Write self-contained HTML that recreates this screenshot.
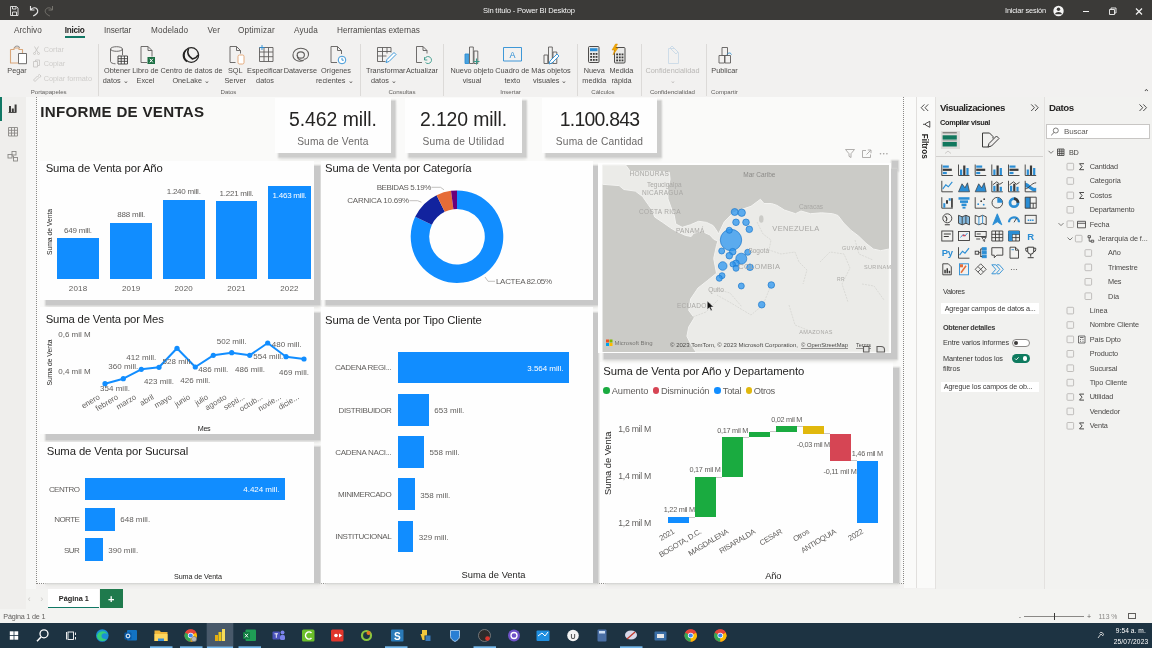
<!DOCTYPE html>
<html lang="es"><head><meta charset="utf-8"><title>Sin título - Power BI Desktop</title>
<style>
html,body{margin:0;padding:0}
body{width:1152px;height:648px;overflow:hidden;position:relative;background:#f2f1f0;font-family:"Liberation Sans",sans-serif;}
.b{position:absolute;display:block}
.t{position:absolute;white-space:nowrap;display:block}
svg{position:absolute;overflow:visible}
svg text{font-family:"Liberation Sans",sans-serif}
</style></head>
<body>
<div class="b" style="left:0.0px;top:0.0px;width:1152.0px;height:20.0px;background:#3b3a38;"></div>
<span class="t" style="left:483.0px;top:5.9px;font-size:7.6px;line-height:10px;color:#f4f4f4;letter-spacing:-0.18px;">Sin título - Power BI Desktop</span>
<span class="t" style="left:1005.0px;top:5.8px;font-size:7.4px;line-height:10px;color:#f4f4f4;letter-spacing:-0.16px;">Iniciar sesión</span>
<svg class="b" style="left:0;top:0.600px" width="1152" height="21" viewBox="0 0 1152 21" fill="none" stroke="#e8e8e8" stroke-width="1">
<path d="M10.5 5.5h6l1.5 1.500v7.500h-7.500z M12.5 5.500v2.500h3.500v-2.500 M12.500 14.500v-3.500h4v3.500" stroke-width="0.9"/>
<path d="M30.500 5v4h4 M30.700 9c1.500-3 6-3 7 .500c.500 2.500-1.500 4-4.500 5.500" stroke-width="1.100"/>
<path d="M52.500 5v4h-4 M52.300 9c-1.500-3-6-3-7 .500c-.5 2.500 1.500 4 4.500 5.500" stroke="#77756f" stroke-width="1"/>
<circle cx="1058.500" cy="10" r="5.200" fill="#f4f4f4" stroke="none"/>
<circle cx="1058.500" cy="8.300" r="1.700" fill="#3a3937" stroke="none"/>
<path d="M1055 13.200c.5-2.800 6.500-2.800 7 0z" fill="#3a3937" stroke="none"/>
<path d="M1083 10.500h6" stroke="#f4f4f4"/>
<path d="M1109.500 8.500h5v5h-5z M1111 8.500v-1.500h5v5h-1.500" stroke="#f4f4f4" stroke-width="0.9"/>
<path d="M1136 7.500l6 6 M1142 7.500l-6 6" stroke="#f4f4f4" stroke-width="1.200"/>
</svg>
<div class="b" style="left:0.0px;top:20.0px;width:1152.0px;height:77.0px;background:#f2f1f0;"></div>
<span class="t" style="left:14.0px;top:24.9px;font-size:8.2px;line-height:11px;color:#4a4846;letter-spacing:0.09px;">Archivo</span>
<span class="t" style="left:64.7px;top:24.9px;font-size:8.2px;line-height:11px;color:#252423;letter-spacing:-0.27px;font-weight:700;">Inicio</span>
<span class="t" style="left:104.0px;top:24.9px;font-size:8.2px;line-height:11px;color:#4a4846;letter-spacing:-0.06px;">Insertar</span>
<span class="t" style="left:151.0px;top:24.9px;font-size:8.2px;line-height:11px;color:#4a4846;letter-spacing:0.16px;">Modelado</span>
<span class="t" style="left:207.5px;top:24.9px;font-size:8.2px;line-height:11px;color:#4a4846;letter-spacing:0.06px;">Ver</span>
<span class="t" style="left:238.0px;top:24.9px;font-size:8.2px;line-height:11px;color:#4a4846;letter-spacing:0.21px;">Optimizar</span>
<span class="t" style="left:294.0px;top:24.9px;font-size:8.2px;line-height:11px;color:#4a4846;letter-spacing:0.18px;">Ayuda</span>
<span class="t" style="left:337.0px;top:24.9px;font-size:8.2px;line-height:11px;color:#4a4846;letter-spacing:0.00px;">Herramientas externas</span>
<div class="b" style="left:64.7px;top:36.0px;width:20.0px;height:1.6px;background:#117865;"></div>
<span class="t" style="left:7.3px;top:66.1px;font-size:7.3px;line-height:9px;color:#4c4a48;">Pegar</span>
<span class="t" style="left:43.7px;top:45.4px;font-size:7.3px;line-height:9px;color:#cfcdcb;">Cortar</span>
<span class="t" style="left:43.7px;top:59.1px;font-size:7.3px;line-height:9px;color:#cfcdcb;">Copiar</span>
<span class="t" style="left:43.7px;top:74.4px;font-size:7.3px;line-height:9px;color:#cfcdcb;">Copiar formato</span>
<span class="t" style="left:104.1px;top:66.1px;font-size:7.3px;line-height:9px;color:#4c4a48;">Obtener</span>
<span class="t" style="left:102.8px;top:76.1px;font-size:7.3px;line-height:9px;color:#4c4a48;">datos ⌄</span>
<span class="t" style="left:132.3px;top:66.1px;font-size:7.3px;line-height:9px;color:#4c4a48;">Libro de</span>
<span class="t" style="left:136.6px;top:76.1px;font-size:7.3px;line-height:9px;color:#4c4a48;">Excel</span>
<span class="t" style="left:160.5px;top:66.1px;font-size:7.3px;line-height:9px;color:#4c4a48;">Centro de datos de</span>
<span class="t" style="left:172.4px;top:76.1px;font-size:7.3px;line-height:9px;color:#4c4a48;">OneLake ⌄</span>
<span class="t" style="left:228.0px;top:66.1px;font-size:7.3px;line-height:9px;color:#4c4a48;">SQL</span>
<span class="t" style="left:224.5px;top:76.1px;font-size:7.3px;line-height:9px;color:#4c4a48;">Server</span>
<span class="t" style="left:247.1px;top:66.1px;font-size:7.3px;line-height:9px;color:#4c4a48;">Especificar</span>
<span class="t" style="left:256.1px;top:76.1px;font-size:7.3px;line-height:9px;color:#4c4a48;">datos</span>
<span class="t" style="left:283.7px;top:66.1px;font-size:7.3px;line-height:9px;color:#4c4a48;">Dataverse</span>
<span class="t" style="left:321.0px;top:66.1px;font-size:7.3px;line-height:9px;color:#4c4a48;">Orígenes</span>
<span class="t" style="left:315.9px;top:76.1px;font-size:7.3px;line-height:9px;color:#4c4a48;">recientes ⌄</span>
<span class="t" style="left:366.0px;top:66.1px;font-size:7.3px;line-height:9px;color:#4c4a48;">Transformar</span>
<span class="t" style="left:371.0px;top:76.1px;font-size:7.3px;line-height:9px;color:#4c4a48;">datos ⌄</span>
<span class="t" style="left:406.0px;top:66.1px;font-size:7.3px;line-height:9px;color:#4c4a48;">Actualizar</span>
<span class="t" style="left:450.5px;top:66.1px;font-size:7.3px;line-height:9px;color:#4c4a48;">Nuevo objeto</span>
<span class="t" style="left:462.7px;top:76.1px;font-size:7.3px;line-height:9px;color:#4c4a48;">visual</span>
<span class="t" style="left:495.3px;top:66.1px;font-size:7.3px;line-height:9px;color:#4c4a48;">Cuadro de</span>
<span class="t" style="left:504.4px;top:76.1px;font-size:7.3px;line-height:9px;color:#4c4a48;">texto</span>
<span class="t" style="left:531.3px;top:66.1px;font-size:7.3px;line-height:9px;color:#4c4a48;">Más objetos</span>
<span class="t" style="left:533.1px;top:76.1px;font-size:7.3px;line-height:9px;color:#4c4a48;">visuales ⌄</span>
<span class="t" style="left:583.7px;top:66.1px;font-size:7.3px;line-height:9px;color:#4c4a48;">Nueva</span>
<span class="t" style="left:582.3px;top:76.1px;font-size:7.3px;line-height:9px;color:#4c4a48;">medida</span>
<span class="t" style="left:609.5px;top:66.1px;font-size:7.3px;line-height:9px;color:#4c4a48;">Medida</span>
<span class="t" style="left:611.4px;top:76.1px;font-size:7.3px;line-height:9px;color:#4c4a48;">rápida</span>
<span class="t" style="left:645.5px;top:66.1px;font-size:7.3px;line-height:9px;color:#b9b7b5;">Confidencialidad</span>
<span class="t" style="left:669.8px;top:76.1px;font-size:7.3px;line-height:9px;color:#b9b7b5;">⌄</span>
<span class="t" style="left:711.3px;top:66.1px;font-size:7.3px;line-height:9px;color:#4c4a48;">Publicar</span>
<span class="t" style="left:30.7px;top:87.7px;font-size:6.1px;line-height:8px;color:#605e5c;">Portapapeles</span>
<span class="t" style="left:220.5px;top:87.7px;font-size:6.1px;line-height:8px;color:#605e5c;">Datos</span>
<span class="t" style="left:388.4px;top:87.7px;font-size:6.1px;line-height:8px;color:#605e5c;">Consultas</span>
<span class="t" style="left:500.2px;top:87.7px;font-size:6.1px;line-height:8px;color:#605e5c;">Insertar</span>
<span class="t" style="left:591.3px;top:87.7px;font-size:6.1px;line-height:8px;color:#605e5c;">Cálculos</span>
<span class="t" style="left:649.9px;top:87.7px;font-size:6.1px;line-height:8px;color:#605e5c;">Confidencialidad</span>
<span class="t" style="left:711.1px;top:87.7px;font-size:6.1px;line-height:8px;color:#605e5c;">Compartir</span>
<div class="b" style="left:97.5px;top:43.5px;width:0.8px;height:52.0px;background:#dcdad8;"></div>
<div class="b" style="left:360.0px;top:43.5px;width:0.8px;height:52.0px;background:#dcdad8;"></div>
<div class="b" style="left:443.3px;top:43.5px;width:0.8px;height:52.0px;background:#dcdad8;"></div>
<div class="b" style="left:576.7px;top:43.5px;width:0.8px;height:52.0px;background:#dcdad8;"></div>
<div class="b" style="left:640.7px;top:43.5px;width:0.8px;height:52.0px;background:#dcdad8;"></div>
<div class="b" style="left:705.5px;top:43.5px;width:0.8px;height:52.0px;background:#dcdad8;"></div>
<span class="t" style="left:1143.0px;top:87.9px;font-size:8px;line-height:10px;color:#252423;">⌃</span>
<div class="b" style="left:0.0px;top:97.0px;width:25.5px;height:512.0px;background:#efeeec;"></div>
<div class="b" style="left:25.5px;top:97.0px;width:10.5px;height:492.0px;background:#f7f7f6;"></div>
<div class="b" style="left:0.0px;top:96.5px;width:2.2px;height:24.0px;background:#117865;"></div>
<div class="b" style="left:36.0px;top:97.0px;width:867.5px;height:486.5px;background:#fafaf9;border-left:1px dotted #8a8886;border-bottom:1px dotted #8a8886;border-right:1px dotted #8a8886;box-sizing:border-box;"></div>
<div class="b" style="left:904.0px;top:97.0px;width:12.0px;height:490.5px;background:#fafaf9;"></div>
<div class="b" style="left:916.0px;top:97.0px;width:19.0px;height:490.5px;background:#fafaf9;border-left:1px solid #e1dfdd;box-sizing:border-box;"></div>
<div class="b" style="left:935.0px;top:97.0px;width:108.5px;height:492.0px;background:#f1f1ef;border-left:1px solid #e3e1df;box-sizing:border-box;"></div>
<div class="b" style="left:1043.5px;top:97.0px;width:108.5px;height:492.0px;background:#f2f2f0;border-left:1px solid #e3e1df;box-sizing:border-box;"></div>
<div class="b" style="left:25.5px;top:588.5px;width:1127.0px;height:20.5px;background:#f3f3f1;"></div>
<div class="b" style="left:0.0px;top:609.0px;width:1152.0px;height:14.5px;background:#f3f3f1;"></div>
<div class="b" style="left:48.3px;top:589.3px;width:51.0px;height:18.7px;background:#ffffff;border-bottom:1.6px solid #117865;box-sizing:border-box;"></div>
<span class="t" style="left:58.8px;top:594.4px;font-size:7.3px;line-height:9px;color:#252423;font-weight:700;">Página 1</span>
<div class="b" style="left:100.0px;top:589.3px;width:22.7px;height:18.7px;background:#1f7a4d;"></div>
<span class="t" style="left:108.1px;top:591.5px;font-size:11px;line-height:14px;color:#ffffff;font-weight:700;">+</span>
<span class="t" style="left:27.8px;top:593.0px;font-size:9px;line-height:12px;color:#c8c6c4;">‹</span>
<span class="t" style="left:40.2px;top:593.0px;font-size:9px;line-height:12px;color:#c8c6c4;">›</span>
<span class="t" style="left:3.3px;top:612.2px;font-size:7.2px;line-height:9px;color:#605e5c;letter-spacing:-0.19px;">Página 1 de 1</span>
<div class="b" style="left:1024.0px;top:616.0px;width:60.0px;height:0.8px;background:#8a8886;"></div>
<div class="b" style="left:1053.5px;top:612.5px;width:1.6px;height:7.0px;background:#3b3a39;"></div>
<span class="t" style="left:1018.8px;top:611.9px;font-size:7px;line-height:9px;color:#605e5c;">-</span>
<span class="t" style="left:1087.0px;top:611.9px;font-size:7px;line-height:9px;color:#605e5c;">+</span>
<span class="t" style="left:1098.6px;top:612.1px;font-size:6.8px;line-height:9px;color:#8a8886;">113 %</span>
<div class="b" style="left:1128.0px;top:612.5px;width:8.0px;height:6.5px;background:transparent;border:1px solid #605e5c;box-sizing:border-box;"></div>
<div class="b" style="left:0.0px;top:623.0px;width:1152.0px;height:25.0px;background:#1d3342;"></div>
<span class="t" style="left:40.3px;top:101.8px;font-size:15.1px;line-height:20px;color:#252423;letter-spacing:0.29px;font-weight:700;">INFORME DE VENTAS</span>
<div class="b" style="left:278.6px;top:101.1px;width:116.0px;height:55.5px;background:#cdcdcc;box-shadow:0 0 1.500px 1px #d2d2d0,0 3px 3px 0 #e8e8e5"></div>
<div class="b" style="left:275.0px;top:97.5px;width:116.0px;height:55.5px;background:#fefefe;"></div>
<span class="t" style="left:289.0px;top:107.1px;font-size:19.4px;line-height:25px;color:#252423;letter-spacing:-0.04px;">5.462 mill.</span>
<span class="t" style="left:297.2px;top:135.2px;font-size:10.2px;line-height:13px;color:#6b6968;letter-spacing:0.13px;">Suma de Venta</span>
<div class="b" style="left:408.6px;top:101.1px;width:117.0px;height:55.5px;background:#cdcdcc;box-shadow:0 0 1.500px 1px #d2d2d0,0 3px 3px 0 #e8e8e5"></div>
<div class="b" style="left:405.0px;top:97.5px;width:117.0px;height:55.5px;background:#fefefe;"></div>
<span class="t" style="left:420.0px;top:107.1px;font-size:19.4px;line-height:25px;color:#252423;letter-spacing:-0.13px;">2.120 mill.</span>
<span class="t" style="left:422.5px;top:135.2px;font-size:10.2px;line-height:13px;color:#6b6968;letter-spacing:0.27px;">Suma de Utilidad</span>
<div class="b" style="left:545.6px;top:101.1px;width:115.0px;height:55.5px;background:#cdcdcc;box-shadow:0 0 1.500px 1px #d2d2d0,0 3px 3px 0 #e8e8e5"></div>
<div class="b" style="left:542.0px;top:97.5px;width:115.0px;height:55.5px;background:#fefefe;"></div>
<span class="t" style="left:559.8px;top:107.1px;font-size:19.4px;line-height:25px;color:#252423;letter-spacing:-0.76px;">1.100.843</span>
<span class="t" style="left:555.8px;top:135.2px;font-size:10.2px;line-height:13px;color:#6b6968;letter-spacing:0.19px;">Suma de Cantidad</span>
<div class="b" style="left:45.5px;top:166.0px;width:274.0px;height:139.1px;background:#c8c8c8;box-shadow:0 0 1.500px 1px #d2d2d0,0 3px 3px 0 #e8e8e5"></div>
<div class="b" style="left:40.0px;top:160.5px;width:274.0px;height:139.1px;background:#fefefe;"></div>
<span class="t" style="left:45.7px;top:160.8px;font-size:11.3px;line-height:15px;color:#252423;letter-spacing:-0.11px;">Suma de Venta por Año</span>
<div class="b" style="left:56.7px;top:238.4px;width:42.6px;height:40.9px;background:#118dff;"></div>
<span class="t" style="left:64.1px;top:225.8px;font-size:8px;line-height:10px;color:#605e5c;letter-spacing:-0.23px;">649 mill.</span>
<span class="t" style="left:68.8px;top:283.8px;font-size:8px;line-height:10px;color:#605e5c;letter-spacing:0.18px;">2018</span>
<div class="b" style="left:110.0px;top:223.0px;width:42.3px;height:56.3px;background:#118dff;"></div>
<span class="t" style="left:117.3px;top:210.4px;font-size:8px;line-height:10px;color:#605e5c;letter-spacing:-0.23px;">888 mill.</span>
<span class="t" style="left:121.9px;top:283.8px;font-size:8px;line-height:10px;color:#605e5c;letter-spacing:0.18px;">2019</span>
<div class="b" style="left:162.7px;top:200.0px;width:42.0px;height:79.3px;background:#118dff;"></div>
<span class="t" style="left:166.7px;top:187.4px;font-size:8px;line-height:10px;color:#605e5c;letter-spacing:-0.23px;">1.240 mill.</span>
<span class="t" style="left:174.4px;top:283.8px;font-size:8px;line-height:10px;color:#605e5c;letter-spacing:0.18px;">2020</span>
<div class="b" style="left:215.7px;top:201.4px;width:41.6px;height:77.9px;background:#118dff;"></div>
<span class="t" style="left:219.5px;top:188.8px;font-size:8px;line-height:10px;color:#605e5c;letter-spacing:-0.23px;">1.221 mill.</span>
<span class="t" style="left:227.2px;top:283.8px;font-size:8px;line-height:10px;color:#605e5c;letter-spacing:0.18px;">2021</span>
<div class="b" style="left:268.3px;top:185.8px;width:42.4px;height:93.5px;background:#118dff;"></div>
<span class="t" style="left:272.5px;top:190.9px;font-size:8px;line-height:10px;color:#ffffff;letter-spacing:-0.23px;">1.463 mill.</span>
<span class="t" style="left:280.2px;top:283.8px;font-size:8px;line-height:10px;color:#605e5c;letter-spacing:0.18px;">2022</span>
<svg class="b" style="left:0;top:0" width="1152" height="648"><text transform="translate(51.800,232) rotate(-90)" text-anchor="middle" font-size="7.200" fill="#252423" textLength="46" lengthAdjust="spacingAndGlyphs">Suma de Venta</text></svg>
<div class="b" style="left:326.2px;top:166.0px;width:272.0px;height:139.1px;background:#c8c8c8;box-shadow:0 0 1.500px 1px #d2d2d0,0 3px 3px 0 #e8e8e5"></div>
<div class="b" style="left:320.7px;top:160.5px;width:272.0px;height:139.1px;background:#fefefe;"></div>
<span class="t" style="left:325.0px;top:160.8px;font-size:11.3px;line-height:15px;color:#252423;letter-spacing:-0.11px;">Suma de Venta por Categoría</span>
<svg class="b" style="left:0;top:0" width="1152" height="648"><path d="M457.00 190.40A46.3 46.3 0 1 1 415.17 216.85L431.88 224.78A27.8 27.8 0 1 0 457.00 208.90Z" fill="#118dff"/><path d="M415.17 216.85A46.3 46.3 0 0 1 436.60 195.13L444.75 211.74A27.8 27.8 0 0 0 431.88 224.78Z" fill="#12239e"/><path d="M436.60 195.13A46.3 46.3 0 0 1 451.00 190.79L453.39 209.13A27.8 27.8 0 0 0 444.75 211.74Z" fill="#e66c37"/><path d="M451.00 190.79A46.3 46.3 0 0 1 457.00 190.40L457.00 208.90A27.8 27.8 0 0 0 453.39 209.13Z" fill="#6b007b"/><path d="M431.5 187.300h9l3.500 2.500 M409.500 200.700h8l4 1.500 M485 277l3 4.300h7" fill="none" stroke="#b3b0ad" stroke-width="0.8"/></svg>
<span class="t" style="left:376.7px;top:182.7px;font-size:8px;line-height:10px;color:#605e5c;letter-spacing:-0.41px;">BEBIDAS 5.19%</span>
<span class="t" style="left:347.3px;top:196.1px;font-size:8px;line-height:10px;color:#605e5c;letter-spacing:-0.23px;">CARNICA 10.69%</span>
<span class="t" style="left:496.0px;top:276.7px;font-size:8px;line-height:10px;color:#605e5c;letter-spacing:-0.33px;">LACTEA 82.05%</span>
<div class="b" style="left:45.5px;top:312.5px;width:274.0px;height:127.3px;background:#c8c8c8;box-shadow:0 0 1.500px 1px #d2d2d0,0 3px 3px 0 #e8e8e5"></div>
<div class="b" style="left:40.0px;top:307.0px;width:274.0px;height:127.3px;background:#fefefe;"></div>
<span class="t" style="left:45.7px;top:312.4px;font-size:11.3px;line-height:15px;color:#252423;letter-spacing:-0.15px;">Suma de Venta por Mes</span>
<span class="t" style="left:58.3px;top:330.4px;font-size:8px;line-height:10px;color:#605e5c;letter-spacing:-0.01px;">0,6 mil M</span>
<span class="t" style="left:58.3px;top:367.4px;font-size:8px;line-height:10px;color:#605e5c;letter-spacing:-0.01px;">0,4 mil M</span>
<svg class="b" style="left:0;top:0" width="1152" height="648"><polyline fill="none" stroke="#118dff" stroke-width="2" stroke-linejoin="round" points="105,383.7 123.3,378.7 141.3,369.3 159,367.3 177,348.3 195.3,367 213.3,355.3 231.7,352.7 249.7,355.3 267.7,343 286,356.7 304,359"/><circle cx="105" cy="383.7" r="2.600" fill="#118dff"/><circle cx="123.3" cy="378.7" r="2.600" fill="#118dff"/><circle cx="141.3" cy="369.3" r="2.600" fill="#118dff"/><circle cx="159" cy="367.3" r="2.600" fill="#118dff"/><circle cx="177" cy="348.3" r="2.600" fill="#118dff"/><circle cx="195.3" cy="367" r="2.600" fill="#118dff"/><circle cx="213.3" cy="355.3" r="2.600" fill="#118dff"/><circle cx="231.7" cy="352.7" r="2.600" fill="#118dff"/><circle cx="249.7" cy="355.3" r="2.600" fill="#118dff"/><circle cx="267.7" cy="343" r="2.600" fill="#118dff"/><circle cx="286" cy="356.7" r="2.600" fill="#118dff"/><circle cx="304" cy="359" r="2.600" fill="#118dff"/><text transform="translate(100.5,398.5) rotate(-31)" text-anchor="end" font-size="7.800" fill="#605e5c">enero</text><text transform="translate(118.8,398.5) rotate(-31)" text-anchor="end" font-size="7.800" fill="#605e5c">febrero</text><text transform="translate(136.8,398.5) rotate(-31)" text-anchor="end" font-size="7.800" fill="#605e5c">marzo</text><text transform="translate(154.5,398.5) rotate(-31)" text-anchor="end" font-size="7.800" fill="#605e5c">abril</text><text transform="translate(172.5,398.5) rotate(-31)" text-anchor="end" font-size="7.800" fill="#605e5c">mayo</text><text transform="translate(190.8,398.5) rotate(-31)" text-anchor="end" font-size="7.800" fill="#605e5c">junio</text><text transform="translate(208.8,398.5) rotate(-31)" text-anchor="end" font-size="7.800" fill="#605e5c">julio</text><text transform="translate(227.2,398.5) rotate(-31)" text-anchor="end" font-size="7.800" fill="#605e5c">agosto</text><text transform="translate(245.2,398.5) rotate(-31)" text-anchor="end" font-size="7.800" fill="#605e5c">septi...</text><text transform="translate(263.2,398.5) rotate(-31)" text-anchor="end" font-size="7.800" fill="#605e5c">octub...</text><text transform="translate(281.5,398.5) rotate(-31)" text-anchor="end" font-size="7.800" fill="#605e5c">novie...</text><text transform="translate(299.5,398.5) rotate(-31)" text-anchor="end" font-size="7.800" fill="#605e5c">dicie...</text><text transform="translate(51.800,362.5) rotate(-90)" text-anchor="middle" font-size="7.200" fill="#252423" textLength="46" lengthAdjust="spacingAndGlyphs">Suma de Venta</text></svg>
<span class="t" style="left:100.0px;top:384.1px;font-size:8px;line-height:10px;color:#605e5c;letter-spacing:0.02px;">354 mill.</span>
<span class="t" style="left:108.3px;top:362.4px;font-size:8px;line-height:10px;color:#605e5c;letter-spacing:0.02px;">360 mill.</span>
<span class="t" style="left:126.3px;top:353.1px;font-size:8px;line-height:10px;color:#605e5c;letter-spacing:0.02px;">412 mill.</span>
<span class="t" style="left:144.0px;top:376.7px;font-size:8px;line-height:10px;color:#605e5c;letter-spacing:0.02px;">423 mill.</span>
<span class="t" style="left:162.5px;top:357.4px;font-size:8px;line-height:10px;color:#605e5c;letter-spacing:0.02px;">528 mill.</span>
<span class="t" style="left:180.3px;top:376.1px;font-size:8px;line-height:10px;color:#605e5c;letter-spacing:0.02px;">426 mill.</span>
<span class="t" style="left:198.3px;top:365.4px;font-size:8px;line-height:10px;color:#605e5c;letter-spacing:0.02px;">486 mill.</span>
<span class="t" style="left:216.7px;top:336.7px;font-size:8px;line-height:10px;color:#605e5c;letter-spacing:0.02px;">502 mill.</span>
<span class="t" style="left:235.0px;top:365.4px;font-size:8px;line-height:10px;color:#605e5c;letter-spacing:0.02px;">486 mill.</span>
<span class="t" style="left:253.3px;top:352.4px;font-size:8px;line-height:10px;color:#605e5c;letter-spacing:0.02px;">554 mill.</span>
<span class="t" style="left:271.7px;top:340.4px;font-size:8px;line-height:10px;color:#605e5c;letter-spacing:0.02px;">480 mill.</span>
<span class="t" style="left:279.0px;top:368.1px;font-size:8px;line-height:10px;color:#605e5c;letter-spacing:0.02px;">469 mill.</span>
<span class="t" style="left:197.8px;top:423.6px;font-size:7.2px;line-height:9px;color:#252423;letter-spacing:-0.37px;">Mes</span>
<div class="b" style="left:45.5px;top:447.0px;width:274.0px;height:136.0px;background:#c8c8c8;box-shadow:0 0 1.500px 1px #d2d2d0,0 3px 3px 0 #e8e8e5"></div>
<div class="b" style="left:40.0px;top:441.5px;width:274.0px;height:141.5px;background:#fefefe;"></div>
<span class="t" style="left:46.7px;top:444.1px;font-size:11.3px;line-height:15px;color:#252423;letter-spacing:-0.09px;">Suma de Venta por Sucursal</span>
<div class="b" style="left:85.3px;top:477.7px;width:200.0px;height:22.6px;background:#118dff;"></div>
<span class="t" style="left:48.9px;top:484.9px;font-size:8px;line-height:10px;color:#605e5c;letter-spacing:-0.56px;">CENTRO</span>
<span class="t" style="left:243.3px;top:484.9px;font-size:8px;line-height:10px;color:#fff;letter-spacing:-0.04px;">4.424 mill.</span>
<div class="b" style="left:85.3px;top:508.0px;width:29.7px;height:22.6px;background:#118dff;"></div>
<span class="t" style="left:54.2px;top:515.2px;font-size:8px;line-height:10px;color:#605e5c;letter-spacing:-0.56px;">NORTE</span>
<span class="t" style="left:120.2px;top:515.2px;font-size:8px;line-height:10px;color:#605e5c;letter-spacing:0.02px;">648 mill.</span>
<div class="b" style="left:85.3px;top:538.3px;width:17.7px;height:22.6px;background:#118dff;"></div>
<span class="t" style="left:64.1px;top:545.5px;font-size:8px;line-height:10px;color:#605e5c;letter-spacing:-0.56px;">SUR</span>
<span class="t" style="left:108.2px;top:545.5px;font-size:8px;line-height:10px;color:#605e5c;letter-spacing:0.02px;">390 mill.</span>
<span class="t" style="left:174.0px;top:571.6px;font-size:7.2px;line-height:9px;color:#252423;letter-spacing:-0.10px;">Suma de Venta</span>
<div class="b" style="left:326.2px;top:312.5px;width:272.3px;height:270.5px;background:#c8c8c8;box-shadow:0 0 1.500px 1px #d2d2d0,0 3px 3px 0 #e8e8e5"></div>
<div class="b" style="left:320.7px;top:307.0px;width:272.3px;height:276.0px;background:#fefefe;"></div>
<span class="t" style="left:325.0px;top:313.1px;font-size:11.3px;line-height:15px;color:#252423;letter-spacing:-0.09px;">Suma de Venta por Tipo Cliente</span>
<div class="b" style="left:397.7px;top:351.7px;width:171.0px;height:31.7px;background:#118dff;"></div>
<span class="t" style="left:334.9px;top:363.4px;font-size:8px;line-height:10px;color:#605e5c;letter-spacing:-0.35px;">CADENA REGI...</span>
<span class="t" style="left:527.3px;top:363.9px;font-size:8px;line-height:10px;color:#fff;letter-spacing:-0.04px;">3.564 mill.</span>
<div class="b" style="left:397.7px;top:393.9px;width:31.3px;height:31.7px;background:#118dff;"></div>
<span class="t" style="left:338.6px;top:405.6px;font-size:8px;line-height:10px;color:#605e5c;letter-spacing:-0.38px;">DISTRIBUIDOR</span>
<span class="t" style="left:434.3px;top:406.1px;font-size:8px;line-height:10px;color:#605e5c;letter-spacing:0.02px;">653 mill.</span>
<div class="b" style="left:397.7px;top:436.1px;width:26.6px;height:31.7px;background:#118dff;"></div>
<span class="t" style="left:335.3px;top:447.8px;font-size:8px;line-height:10px;color:#605e5c;letter-spacing:-0.35px;">CADENA NACI...</span>
<span class="t" style="left:429.6px;top:448.3px;font-size:8px;line-height:10px;color:#605e5c;letter-spacing:0.02px;">558 mill.</span>
<div class="b" style="left:397.7px;top:478.3px;width:17.3px;height:31.7px;background:#118dff;"></div>
<span class="t" style="left:338.1px;top:490.0px;font-size:8px;line-height:10px;color:#605e5c;letter-spacing:-0.42px;">MINIMERCADO</span>
<span class="t" style="left:420.3px;top:490.5px;font-size:8px;line-height:10px;color:#605e5c;letter-spacing:0.02px;">358 mill.</span>
<div class="b" style="left:397.7px;top:520.5px;width:15.7px;height:31.7px;background:#118dff;"></div>
<span class="t" style="left:335.3px;top:532.2px;font-size:8px;line-height:10px;color:#605e5c;letter-spacing:-0.37px;">INSTITUCIONAL</span>
<span class="t" style="left:418.7px;top:532.7px;font-size:8px;line-height:10px;color:#605e5c;letter-spacing:0.02px;">329 mill.</span>
<span class="t" style="left:461.6px;top:569.0px;font-size:9.3px;line-height:12px;color:#252423;letter-spacing:0.03px;">Suma de Venta</span>
<div class="b" style="left:605.5px;top:367.5px;width:293.3px;height:215.5px;background:#c8c8c8;box-shadow:0 0 1.500px 1px #d2d2d0,0 3px 3px 0 #e8e8e5"></div>
<div class="b" style="left:600.0px;top:362.0px;width:293.3px;height:221.0px;background:#fefefe;"></div>
<span class="t" style="left:603.3px;top:363.8px;font-size:11.3px;line-height:15px;color:#252423;letter-spacing:-0.05px;">Suma de Venta por Año y Departamento</span>
<div class="b" style="left:603.4px;top:387.0px;width:6.6px;height:6.6px;background:#1aab40;border-radius:50%;"></div>
<span class="t" style="left:611.7px;top:384.8px;font-size:9.3px;line-height:12px;color:#605e5c;letter-spacing:-0.09px;">Aumento</span>
<div class="b" style="left:652.7px;top:387.0px;width:6.6px;height:6.6px;background:#d64554;border-radius:50%;"></div>
<span class="t" style="left:661.0px;top:384.8px;font-size:9.3px;line-height:12px;color:#605e5c;letter-spacing:-0.21px;">Disminución</span>
<div class="b" style="left:714.4px;top:387.0px;width:6.6px;height:6.6px;background:#118dff;border-radius:50%;"></div>
<span class="t" style="left:722.7px;top:384.8px;font-size:9.3px;line-height:12px;color:#605e5c;letter-spacing:-0.21px;">Total</span>
<div class="b" style="left:745.7px;top:387.0px;width:6.6px;height:6.6px;background:#e1b80d;border-radius:50%;"></div>
<span class="t" style="left:753.7px;top:384.8px;font-size:9.3px;line-height:12px;color:#605e5c;letter-spacing:-0.29px;">Otros</span>
<span class="t" style="left:618.3px;top:424.2px;font-size:8.7px;line-height:11px;color:#605e5c;letter-spacing:-0.29px;">1,6 mil M</span>
<span class="t" style="left:618.3px;top:470.9px;font-size:8.7px;line-height:11px;color:#605e5c;letter-spacing:-0.29px;">1,4 mil M</span>
<span class="t" style="left:618.3px;top:517.6px;font-size:8.7px;line-height:11px;color:#605e5c;letter-spacing:-0.29px;">1,2 mil M</span>
<div class="b" style="left:668.3px;top:517.3px;width:21.0px;height:5.4px;background:#118dff;"></div>
<div class="b" style="left:695.3px;top:477.3px;width:21.0px;height:40.0px;background:#1aab40;"></div>
<div class="b" style="left:722.3px;top:437.3px;width:21.0px;height:40.0px;background:#1aab40;"></div>
<div class="b" style="left:749.3px;top:431.7px;width:21.0px;height:5.6px;background:#1aab40;"></div>
<div class="b" style="left:776.0px;top:426.3px;width:21.3px;height:5.4px;background:#1aab40;"></div>
<div class="b" style="left:803.0px;top:426.3px;width:21.3px;height:7.4px;background:#e1b80d;"></div>
<div class="b" style="left:830.0px;top:433.7px;width:21.0px;height:27.0px;background:#d64554;"></div>
<div class="b" style="left:857.0px;top:460.7px;width:21.0px;height:62.0px;background:#118dff;"></div>
<div class="b" style="left:689.3px;top:517.0px;width:6.0px;height:0.6px;background:#c8c6c4;"></div>
<div class="b" style="left:716.3px;top:477.0px;width:6.0px;height:0.6px;background:#c8c6c4;"></div>
<div class="b" style="left:743.3px;top:437.0px;width:6.0px;height:0.6px;background:#c8c6c4;"></div>
<div class="b" style="left:770.3px;top:431.4px;width:5.7px;height:0.6px;background:#c8c6c4;"></div>
<div class="b" style="left:797.3px;top:426.0px;width:5.7px;height:0.6px;background:#c8c6c4;"></div>
<div class="b" style="left:824.3px;top:433.4px;width:5.7px;height:0.6px;background:#c8c6c4;"></div>
<div class="b" style="left:851.0px;top:460.4px;width:6.0px;height:0.6px;background:#c8c6c4;"></div>
<span class="t" style="left:663.8px;top:505.2px;font-size:7.3px;line-height:9px;color:#605e5c;letter-spacing:-0.27px;">1,22 mil M</span>
<span class="t" style="left:689.5px;top:465.2px;font-size:7.3px;line-height:9px;color:#605e5c;letter-spacing:-0.27px;">0,17 mil M</span>
<span class="t" style="left:717.2px;top:425.9px;font-size:7.3px;line-height:9px;color:#605e5c;letter-spacing:-0.27px;">0,17 mil M</span>
<span class="t" style="left:771.2px;top:414.6px;font-size:7.3px;line-height:9px;color:#605e5c;letter-spacing:-0.27px;">0,02 mil M</span>
<span class="t" style="left:796.8px;top:440.2px;font-size:7.3px;line-height:9px;color:#605e5c;letter-spacing:-0.28px;">-0,03 mil M</span>
<span class="t" style="left:823.5px;top:466.6px;font-size:7.3px;line-height:9px;color:#605e5c;letter-spacing:-0.23px;">-0,11 mil M</span>
<span class="t" style="left:851.8px;top:448.6px;font-size:7.3px;line-height:9px;color:#605e5c;letter-spacing:-0.27px;">1,46 mil M</span>
<svg class="b" style="left:0;top:0" width="1152" height="648"><text transform="translate(674.8,533) rotate(-31)" text-anchor="end" font-size="7.600" fill="#605e5c" letter-spacing="-0.3">2021</text><text transform="translate(701.8,533) rotate(-31)" text-anchor="end" font-size="7.600" fill="#605e5c" letter-spacing="-0.3">BOGOTA, D.C.</text><text transform="translate(728.8,533) rotate(-31)" text-anchor="end" font-size="7.600" fill="#605e5c" letter-spacing="-0.3">MAGDALENA</text><text transform="translate(755.8,533) rotate(-31)" text-anchor="end" font-size="7.600" fill="#605e5c" letter-spacing="-0.3">RISARALDA</text><text transform="translate(782.65,533) rotate(-31)" text-anchor="end" font-size="7.600" fill="#605e5c" letter-spacing="-0.3">CESAR</text><text transform="translate(809.65,533) rotate(-31)" text-anchor="end" font-size="7.600" fill="#605e5c" letter-spacing="-0.3">Otros</text><text transform="translate(836.5,533) rotate(-31)" text-anchor="end" font-size="7.600" fill="#605e5c" letter-spacing="-0.3">ANTIOQUIA</text><text transform="translate(863.5,533) rotate(-31)" text-anchor="end" font-size="7.600" fill="#605e5c" letter-spacing="-0.3">2022</text><text transform="translate(611.300,463.3) rotate(-90)" text-anchor="middle" font-size="9.300" fill="#252423" textLength="63.300" lengthAdjust="spacingAndGlyphs">Suma de Venta</text></svg>
<span class="t" style="left:765.3px;top:569.5px;font-size:9.3px;line-height:12px;color:#252423;letter-spacing:-0.18px;">Año</span>
<div class="b" style="left:892.0px;top:160.5px;width:5.5px;height:10.0px;background:#c8c8c8;box-shadow:0 0 1.5px 1px #d2d2d0;"></div>
<div class="b" style="left:603.5px;top:168.5px;width:293.0px;height:190.0px;background:#c8c8c8;box-shadow:0 0 1.500px 1px #d2d2d0,0 3px 3px 0 #e8e8e5"></div>
<div class="b" style="left:598.0px;top:163.0px;width:293.0px;height:190.0px;background:#fefefe;"></div>
<svg class="b" style="left:0;top:0" width="1152" height="648"><rect x="602.5" y="165" width="286.5" height="187" fill="#cbcbc7"/><polygon fill="#ebebe8" stroke="#f3f3f1" stroke-width="1" stroke-linejoin="round" points="602.5,165 625.6,165 628,168.1 630.4,171.7 646.6,171 669.3,172.2 670.1,179.4 667.7,189.2 668,198.9 670.9,207 674.2,215.1 675.8,224 682.3,227.3 690.4,224.8 698.5,221.3 706.6,222.4 713.1,225.6 717.1,231.3 718.5,234 724.3,221.7 732.7,213.3 740,210 751,206.3 760.4,199.3 764,203.5 771.5,203.5 777,205.4 784.4,210 795.5,213.7 801,211 810.4,213.7 821.5,212.8 832.6,213.7 838,215.5 843.7,223 851,230.4 858.5,236 866,243.3 873.3,249 880.7,250.7 889,249 889,352 696,352 690.6,343.7 686.9,336.3 688.7,327 694.3,317.8 688.7,310.4 690.6,299 698,288 707.3,280.7 716.5,273.3 713.7,258.5 716.5,245.5 717.9,241 713.9,239.4 709.8,234.9 701.7,231.3 693.6,233.3 691.2,236.5 685.5,235.4 675.8,231 670.9,228.1 662.8,222.4 654.7,217 652.3,210.2 648.2,204.6 642.6,196.5 635.3,191.1 623.9,189.5 619.1,185.6 602.5,184.3"/><ellipse cx="761.300" cy="219" rx="2.300" ry="3.800" fill="#cbcbc7"/><path d="M757 222l6 12 8 6-2 10 12 4 14-2 4 10 8 8-4 14 M771 285l-8 20-12 10-20-12-14-8 M789 305l6 20 20 8 M820 262l10-10 14 2 6 14 -8 16 6 18 M855 240l4 14 14 6 M862 284l12 2 10 14 M716 289l14 4 12 14 M690 318l16-6 12-12" fill="none" stroke="#d3d2cf" stroke-width="0.700" stroke-dasharray="2 1"/><circle cx="731" cy="240" r="10.7" fill="#2b95f0" fill-opacity="0.75" stroke="#1d78cc" stroke-width="0.700"/><circle cx="734.7" cy="212" r="3.5" fill="#2b95f0" fill-opacity="0.75" stroke="#1d78cc" stroke-width="0.700"/><circle cx="741.7" cy="212.7" r="3.7" fill="#2b95f0" fill-opacity="0.75" stroke="#1d78cc" stroke-width="0.700"/><circle cx="736" cy="222.3" r="3.3" fill="#2b95f0" fill-opacity="0.75" stroke="#1d78cc" stroke-width="0.700"/><circle cx="746" cy="222.3" r="3.3" fill="#2b95f0" fill-opacity="0.75" stroke="#1d78cc" stroke-width="0.700"/><circle cx="749.3" cy="229.3" r="3.3" fill="#2b95f0" fill-opacity="0.75" stroke="#1d78cc" stroke-width="0.700"/><circle cx="729.3" cy="230.3" r="3" fill="#2b95f0" fill-opacity="0.75" stroke="#1d78cc" stroke-width="0.700"/><circle cx="721.7" cy="251" r="3" fill="#2b95f0" fill-opacity="0.75" stroke="#1d78cc" stroke-width="0.700"/><circle cx="732.7" cy="251.7" r="3.3" fill="#2b95f0" fill-opacity="0.75" stroke="#1d78cc" stroke-width="0.700"/><circle cx="729.3" cy="255.7" r="3.3" fill="#2b95f0" fill-opacity="0.75" stroke="#1d78cc" stroke-width="0.700"/><circle cx="747.7" cy="252.3" r="3" fill="#2b95f0" fill-opacity="0.75" stroke="#1d78cc" stroke-width="0.700"/><circle cx="741.3" cy="258.7" r="5.5" fill="#2b95f0" fill-opacity="0.75" stroke="#1d78cc" stroke-width="0.700"/><circle cx="736" cy="263.3" r="3.3" fill="#2b95f0" fill-opacity="0.75" stroke="#1d78cc" stroke-width="0.700"/><circle cx="732.7" cy="264.3" r="2.7" fill="#2b95f0" fill-opacity="0.75" stroke="#1d78cc" stroke-width="0.700"/><circle cx="736" cy="268.3" r="3" fill="#2b95f0" fill-opacity="0.75" stroke="#1d78cc" stroke-width="0.700"/><circle cx="722.7" cy="266" r="4.3" fill="#2b95f0" fill-opacity="0.75" stroke="#1d78cc" stroke-width="0.700"/><circle cx="750" cy="267.3" r="3.3" fill="#2b95f0" fill-opacity="0.75" stroke="#1d78cc" stroke-width="0.700"/><circle cx="722" cy="275.7" r="3" fill="#2b95f0" fill-opacity="0.75" stroke="#1d78cc" stroke-width="0.700"/><circle cx="719.3" cy="278.3" r="3" fill="#2b95f0" fill-opacity="0.75" stroke="#1d78cc" stroke-width="0.700"/><circle cx="741.3" cy="286" r="3" fill="#2b95f0" fill-opacity="0.75" stroke="#1d78cc" stroke-width="0.700"/><circle cx="771.3" cy="285" r="3.3" fill="#2b95f0" fill-opacity="0.75" stroke="#1d78cc" stroke-width="0.700"/><circle cx="761.7" cy="304.7" r="3.3" fill="#2b95f0" fill-opacity="0.75" stroke="#1d78cc" stroke-width="0.700"/><text x="649.3" y="176.3" text-anchor="middle" font-size="6.5" fill="#a9a8a5" letter-spacing="0.3" >HONDURAS</text><text x="664.3" y="186.6" text-anchor="middle" font-size="6.5" fill="#a9a8a5" letter-spacing="0" >Tegucigalpa</text><text x="662.7" y="195.0" text-anchor="middle" font-size="6.5" fill="#a9a8a5" letter-spacing="0.3" >NICARAGUA</text><text x="660" y="214.0" text-anchor="middle" font-size="6.5" fill="#a9a8a5" letter-spacing="0.3" >COSTA RICA</text><text x="690.3" y="233.3" text-anchor="middle" font-size="6.5" fill="#a9a8a5" letter-spacing="0.3" >PANAMÁ</text><text x="759.3" y="177.3" text-anchor="middle" font-size="6.5" fill="#8c8b88" letter-spacing="0" >Mar Caribe</text><text x="811" y="209.0" text-anchor="middle" font-size="6.5" fill="#a9a8a5" letter-spacing="0" >Caracas</text><text x="796" y="230.9" text-anchor="middle" font-size="7.5" fill="#a9a8a5" letter-spacing="0.3" >VENEZUELA</text><text x="758.7" y="253.0" text-anchor="middle" font-size="6.5" fill="#a9a8a5" letter-spacing="0" >Bogotá</text><text x="759.3" y="268.6" text-anchor="middle" font-size="7.5" fill="#a9a8a5" letter-spacing="0.3" >COLOMBIA</text><text x="716" y="291.6" text-anchor="middle" font-size="6.5" fill="#a9a8a5" letter-spacing="0" >Quito</text><text x="694.3" y="308.3" text-anchor="middle" font-size="6.5" fill="#a9a8a5" letter-spacing="0.3" >ECUADOR</text><text x="854.3" y="250.2" text-anchor="middle" font-size="5.5" fill="#a9a8a5" letter-spacing="0.3" >GUYANA</text><text x="877.7" y="268.6" text-anchor="middle" font-size="5.5" fill="#a9a8a5" letter-spacing="0.3" >SURINAM</text><text x="841" y="281.1" text-anchor="middle" font-size="5" fill="#a9a8a5" letter-spacing="0.3" >RR</text><text x="816" y="334.2" text-anchor="middle" font-size="5.5" fill="#a9a8a5" letter-spacing="0.3" >AMAZONAS</text><rect x="606" y="339.500" width="3" height="3" fill="#f25022"/><rect x="609.500" y="339.500" width="3" height="3" fill="#7fba00"/><rect x="606" y="343" width="3" height="3" fill="#00a4ef"/><rect x="609.500" y="343" width="3" height="3" fill="#ffb900"/><text x="614.5" y="345.1" text-anchor="start" font-size="6" fill="#777673" letter-spacing="0" >Microsoft Bing</text><text x="670" y="347.0" text-anchor="start" font-size="5.6" fill="#4a4947" letter-spacing="0" textLength="128" lengthAdjust="spacingAndGlyphs">© 2023 TomTom, © 2023 Microsoft Corporation,</text><text x="801" y="347.0" text-anchor="start" font-size="5.6" fill="#4a4947" letter-spacing="0" textLength="47" lengthAdjust="spacingAndGlyphs" text-decoration="underline">© OpenStreetMap</text><text x="856" y="347.0" text-anchor="start" font-size="5.6" fill="#4a4947" letter-spacing="0" textLength="15" lengthAdjust="spacingAndGlyphs" text-decoration="underline">Terms</text><path d="M863.500 346.500h5.500v5.500h-5.500z M877 346.500h4c2.500 0 3.500 1.500 3.500 3v2.500h-7.500z" fill="#e4e4e2" stroke="#605e5c" stroke-width="1.100"/><path d="M707.300 301v8.500l2.100-2 1.500 3.300 1.300-.6-1.500-3.200h2.800z" fill="#111" stroke="#fff" stroke-width="0.400"/><g fill="none" stroke="#a8a6a4" stroke-width="0.900"><path d="M845.500 149.500h9l-3.500 4.200v3.800l-2-1.200v-2.600z"/><path d="M866 150.500h-3.500v7h8v-3 M866.500 154.500l4.300-4.300 M867.800 150h3.200v3.200"/></g><circle cx="880.500" cy="153.700" r="0.800" fill="#a19f9d"/><circle cx="883.700" cy="153.700" r="0.800" fill="#a19f9d"/><circle cx="886.900" cy="153.700" r="0.800" fill="#a19f9d"/></svg>
<svg class="b" style="left:0;top:0" width="1152" height="648"><path d="M924.4 104.4l-3.2 3.300l3.2 3.300M928.2 104.4l-3.2 3.300l3.2 3.300" fill="none" stroke="#3b3a39" stroke-width="0.900"/><path d="M1031.2 104.4l3.2 3.300l-3.2 3.300M1035.0 104.4l3.2 3.300l-3.2 3.300" fill="none" stroke="#3b3a39" stroke-width="0.900"/><path d="M1139.5 104.4l3.2 3.300l-3.2 3.300M1143.3 104.4l3.2 3.300l-3.2 3.300" fill="none" stroke="#3b3a39" stroke-width="0.900"/></svg>
<svg class="b" style="left:0;top:0" width="1152" height="648"><path d="M929.800 121.300v6l-4.300-2.300v-1.400z M925.500 124.300h-2.500" fill="none" stroke="#3b3a39" stroke-width="0.900" stroke-linejoin="round"/><text transform="translate(922.300,133.800) rotate(90)" font-size="8.800" font-weight="700" fill="#252423" textLength="25" lengthAdjust="spacingAndGlyphs">Filtros</text></svg>
<span class="t" style="left:940.0px;top:100.8px;font-size:9.7px;line-height:13px;color:#252423;letter-spacing:-0.47px;font-weight:700;">Visualizaciones</span>
<span class="t" style="left:940.0px;top:117.8px;font-size:7.4px;line-height:10px;color:#252423;letter-spacing:-0.34px;font-weight:700;">Compilar visual</span>
<div class="b" style="left:940.5px;top:131.0px;width:19.0px;height:18.0px;background:#dedcda;"></div>
<div class="b" style="left:936.0px;top:155.7px;width:107.0px;height:0.8px;background:#d2d0ce;"></div>
<span class="t" style="left:943.0px;top:287.0px;font-size:7.3px;line-height:9px;color:#3b3a39;letter-spacing:-0.39px;">Valores</span>
<div class="b" style="left:940.7px;top:302.7px;width:98.0px;height:11.0px;background:#ffffff;"></div>
<span class="t" style="left:944.7px;top:303.6px;font-size:7.2px;line-height:9px;color:#3b3a39;letter-spacing:-0.12px;">Agregar campos de datos a...</span>
<span class="t" style="left:943.0px;top:322.6px;font-size:7.3px;line-height:9px;color:#3b3a39;letter-spacing:-0.33px;font-weight:700;">Obtener detalles</span>
<span class="t" style="left:943.0px;top:338.0px;font-size:7.3px;line-height:9px;color:#3b3a39;letter-spacing:-0.14px;">Entre varios informes</span>
<div class="b" style="left:1011.5px;top:338.6px;width:18.5px;height:8.4px;background:#ffffff;border:0.8px solid #8a8886;border-radius:5px;box-sizing:border-box;"></div>
<div class="b" style="left:1014.0px;top:340.8px;width:4.0px;height:4.0px;background:#3b3a39;border-radius:50%;"></div>
<span class="t" style="left:943.0px;top:354.0px;font-size:7.3px;line-height:9px;color:#3b3a39;letter-spacing:-0.12px;">Mantener todos los</span>
<span class="t" style="left:943.0px;top:363.8px;font-size:7.3px;line-height:9px;color:#3b3a39;letter-spacing:-0.06px;">filtros</span>
<div class="b" style="left:1011.5px;top:354.2px;width:18.5px;height:8.6px;background:#0f7b5f;border-radius:5px;"></div>
<div class="b" style="left:1022.5px;top:356.3px;width:4.4px;height:4.4px;background:#ffffff;border-radius:50%;"></div>
<svg class="b" style="left:0;top:0" width="1152" height="648"><path d="M1015 358.500l1.300 1.300 2.300-2.500" fill="none" stroke="#fff" stroke-width="0.900"/></svg>
<div class="b" style="left:940.7px;top:381.7px;width:98.0px;height:10.5px;background:#ffffff;"></div>
<span class="t" style="left:943.7px;top:382.0px;font-size:7.2px;line-height:9px;color:#3b3a39;letter-spacing:-0.10px;">Agregue los campos de ob...</span>
<span class="t" style="left:1049.0px;top:100.8px;font-size:9.7px;line-height:13px;color:#252423;letter-spacing:-0.45px;font-weight:700;">Datos</span>
<div class="b" style="left:1046.3px;top:124.0px;width:103.4px;height:15.0px;background:#ffffff;border:0.8px solid #c8c6c4;box-sizing:border-box;"></div>
<span class="t" style="left:1064.0px;top:126.5px;font-size:8px;line-height:10px;color:#605e5c;letter-spacing:-0.15px;">Buscar</span>
<svg class="b" style="left:0;top:0" width="1152" height="648"><circle cx="1055.800" cy="130.500" r="2.500" fill="none" stroke="#605e5c" stroke-width="0.800"/><path d="M1054 132.500l-2.800 2.800" stroke="#605e5c" stroke-width="0.900"/></svg>
<span class="t" style="left:1069.0px;top:147.6px;font-size:7.3px;line-height:9px;color:#4a4846;letter-spacing:-0.32px;">BD</span>
<span class="t" style="left:1089.7px;top:162.0px;font-size:7.3px;line-height:9px;color:#4a4846;letter-spacing:-0.11px;">Cantidad</span>
<span class="t" style="left:1089.7px;top:176.4px;font-size:7.3px;line-height:9px;color:#4a4846;letter-spacing:-0.11px;">Categoría</span>
<span class="t" style="left:1089.7px;top:190.8px;font-size:7.3px;line-height:9px;color:#4a4846;letter-spacing:-0.11px;">Costos</span>
<span class="t" style="left:1089.7px;top:205.2px;font-size:7.3px;line-height:9px;color:#4a4846;letter-spacing:-0.12px;">Departamento</span>
<span class="t" style="left:1089.7px;top:219.6px;font-size:7.3px;line-height:9px;color:#4a4846;letter-spacing:-0.12px;">Fecha</span>
<span class="t" style="left:1098.0px;top:234.0px;font-size:7.3px;line-height:9px;color:#4a4846;letter-spacing:-0.09px;">Jerarquía de f...</span>
<span class="t" style="left:1108.0px;top:248.4px;font-size:7.3px;line-height:9px;color:#4a4846;letter-spacing:-0.13px;">Año</span>
<span class="t" style="left:1108.0px;top:262.8px;font-size:7.3px;line-height:9px;color:#4a4846;letter-spacing:-0.10px;">Trimestre</span>
<span class="t" style="left:1108.0px;top:277.2px;font-size:7.3px;line-height:9px;color:#4a4846;letter-spacing:-0.14px;">Mes</span>
<span class="t" style="left:1108.0px;top:291.6px;font-size:7.3px;line-height:9px;color:#4a4846;letter-spacing:-0.11px;">Día</span>
<span class="t" style="left:1089.7px;top:306.0px;font-size:7.3px;line-height:9px;color:#4a4846;letter-spacing:-0.11px;">Línea</span>
<span class="t" style="left:1089.7px;top:320.4px;font-size:7.3px;line-height:9px;color:#4a4846;letter-spacing:-0.11px;">Nombre Cliente</span>
<span class="t" style="left:1089.7px;top:334.8px;font-size:7.3px;line-height:9px;color:#4a4846;letter-spacing:-0.11px;">País Dpto</span>
<span class="t" style="left:1089.7px;top:349.2px;font-size:7.3px;line-height:9px;color:#4a4846;letter-spacing:-0.11px;">Producto</span>
<span class="t" style="left:1089.7px;top:363.6px;font-size:7.3px;line-height:9px;color:#4a4846;letter-spacing:-0.11px;">Sucursal</span>
<span class="t" style="left:1089.7px;top:378.0px;font-size:7.3px;line-height:9px;color:#4a4846;letter-spacing:-0.10px;">Tipo Cliente</span>
<span class="t" style="left:1089.7px;top:392.4px;font-size:7.3px;line-height:9px;color:#4a4846;letter-spacing:-0.09px;">Utilidad</span>
<span class="t" style="left:1089.7px;top:406.8px;font-size:7.3px;line-height:9px;color:#4a4846;letter-spacing:-0.12px;">Vendedor</span>
<span class="t" style="left:1089.7px;top:421.2px;font-size:7.3px;line-height:9px;color:#4a4846;letter-spacing:-0.11px;">Venta</span>
<svg class="b" style="left:0;top:0" width="1152" height="648" fill="none" stroke="#605e5c" stroke-width="0.800"><path d="M1048.500 150.800l2.500 2.500 2.500-2.500"/><path d="M1057.500 149h6.500v6.500h-6.500z M1057.500 151.200h6.500 M1057.500 153.400h6.500 M1059.700 149v6.500 M1061.900 149v6.500" stroke="#3b3a39"/><rect x="1067.0" y="163.3" width="6.600" height="6.600" rx="0.800" stroke="#b3b0ad"/><path d="M1084 163.7h-4.500l2.600 3-2.600 3h4.500" stroke="#3b3a39" stroke-width="0.900"/><rect x="1067.0" y="177.7" width="6.600" height="6.600" rx="0.800" stroke="#b3b0ad"/><rect x="1067.0" y="192.1" width="6.600" height="6.600" rx="0.800" stroke="#b3b0ad"/><path d="M1084 192.5h-4.500l2.600 3-2.600 3h4.500" stroke="#3b3a39" stroke-width="0.900"/><rect x="1067.0" y="206.5" width="6.600" height="6.600" rx="0.800" stroke="#b3b0ad"/><rect x="1067.0" y="220.9" width="6.600" height="6.600" rx="0.800" stroke="#b3b0ad"/><path d="M1077.500 221.3h8v6.500h-8z M1077.500 223.3h8" stroke="#3b3a39"/><path d="M1058.500 223.1l2.500 2.500 2.500-2.500"/><rect x="1075.4" y="235.3" width="6.600" height="6.600" rx="0.800" stroke="#b3b0ad"/><path d="M1088 235.7h2.500v2h-2.500z M1089.200 237.7v3.500h2 M1091.200 240.2h2.500v2h-2.500z" stroke="#3b3a39"/><path d="M1067.500 237.5l2.500 2.500 2.500-2.500"/><rect x="1085.0" y="249.7" width="6.600" height="6.600" rx="0.800" stroke="#b3b0ad"/><rect x="1085.0" y="264.1" width="6.600" height="6.600" rx="0.800" stroke="#b3b0ad"/><rect x="1085.0" y="278.5" width="6.600" height="6.600" rx="0.800" stroke="#b3b0ad"/><rect x="1085.0" y="292.9" width="6.600" height="6.600" rx="0.800" stroke="#b3b0ad"/><rect x="1067.0" y="307.3" width="6.600" height="6.600" rx="0.800" stroke="#b3b0ad"/><rect x="1067.0" y="321.7" width="6.600" height="6.600" rx="0.800" stroke="#b3b0ad"/><rect x="1067.0" y="336.1" width="6.600" height="6.600" rx="0.800" stroke="#b3b0ad"/><path d="M1078.500 336.0h6.500v7h-6.500z M1080 337.5h3.500 M1080 339.5h1 M1082.500 339.5h1 M1080 341.3h1 M1082.500 341.3h1" stroke="#3b3a39" stroke-width="0.700"/><rect x="1067.0" y="350.5" width="6.600" height="6.600" rx="0.800" stroke="#b3b0ad"/><rect x="1067.0" y="364.9" width="6.600" height="6.600" rx="0.800" stroke="#b3b0ad"/><rect x="1067.0" y="379.3" width="6.600" height="6.600" rx="0.800" stroke="#b3b0ad"/><rect x="1067.0" y="393.7" width="6.600" height="6.600" rx="0.800" stroke="#b3b0ad"/><path d="M1084 394.1h-4.500l2.600 3-2.600 3h4.500" stroke="#3b3a39" stroke-width="0.900"/><rect x="1067.0" y="408.1" width="6.600" height="6.600" rx="0.800" stroke="#b3b0ad"/><rect x="1067.0" y="422.5" width="6.600" height="6.600" rx="0.800" stroke="#b3b0ad"/><path d="M1084 422.9h-4.500l2.600 3-2.600 3h4.500" stroke="#3b3a39" stroke-width="0.900"/></svg>
<svg class="b" style="left:0;top:0" width="1152" height="648" fill="none" stroke="#605e5c" stroke-width="0.900" stroke-linejoin="round"><path d="M10.500 49.500h3.500v-1.500h5v1.500h3.500v4 M10.500 49.500v13.500h8" stroke="#d9a679" stroke-width="1.100"/><path d="M14.500 48a2.500 2 0 0 1 5 0" stroke="#8a8886"/><path d="M18.500 53.500h8v10.200h-8z" stroke="#605e5c" fill="#fff"/><g stroke="#c8c6c4"><path d="M34.500 46.500l3.500 6 M38.500 46.500l-3.500 6"/><circle cx="34.500" cy="53.500" r="1"/><circle cx="38.500" cy="53.500" r="1"/><path d="M33.500 61.500h4v5.500h-4z M35.500 61.500v-1.500h4v5.500h-2"/><path d="M33.500 80l4-4 1.500 1.500-4 4z M38 75.500l1.500-1 1.500 1.500-1 1.500"/></g><ellipse cx="116.500" cy="49" rx="6" ry="2.300"/><path d="M110.500 49v12.500c0 1.300 2.500 2.300 5 2.300 M122.500 49v6"/><path d="M118 56h9.500v8h-9.500z M118 58.700h9.500 M118 61.300h9.500 M121.200 56v8 M124.400 56v8" stroke="#3b3a39" fill="#fff"/><path d="M141 46.500h7l4 4v6 M141 46.500v16h6 M148 46.500v4h4"/><rect x="147.500" y="57" width="7.500" height="7" fill="#1d7044" stroke="none"/><path d="M149.800 58.800l3 3.600 M152.800 58.800l-3 3.600" stroke="#fff" stroke-width="1"/><circle cx="191.300" cy="55" r="7.300" stroke="#252423" stroke-width="1.300"/><path d="M186 50a7 7 0 0 0 1 11.500 M188.500 48.500c-1.500 4 0 8 4 10.500 2.500-.5 4.500-2 5.500-4" stroke="#252423" stroke-width="1.600"/><path d="M230 46.500h6.500l4 4v3 M230 46.500v16h5.500 M236.500 46.500v4h4"/><rect x="238" y="55" width="6" height="9" rx="1.500" stroke="#e3a46f" fill="#fff"/><path d="M259.500 47.500h13.500v14h-13.500z M259.500 52h13.500 M259.500 56.700h13.500 M264 47.500v14 M268.500 47.500v14"/><path d="M262 45v5 M259.500 47.500h5" stroke="#2a8dd4"/><path d="M303.500 60.500c-5 2-10.500-.5-10.500-5.500 0-4 3.500-6.800 7.800-6.800 4.500 0 7.700 2.600 7.700 6 0 3-2.300 5-5 5" stroke-width="1.100"/><ellipse cx="300.800" cy="55" rx="3.600" ry="3.100" stroke-width="1.100"/><path d="M297.200 55c0 3.500 2.500 5.500 6.300 5.500" stroke-width="1.100"/><path d="M331 46.500h6.500l4 4v3.500 M331 46.500v16h6 M337.500 46.500v4h4"/><circle cx="342" cy="60" r="3.800" stroke="#2a8dd4" fill="#fff"/><path d="M342 57.800v2.400h1.800" stroke="#2a8dd4"/><path d="M377.500 47.500h13.500v5 M377.500 47.500v14h8 M377.500 51.500h13.500 M377.500 56h9 M382.500 47.500v14 M387 47.500v6"/><path d="M386 62.500l1-3 7-7 2 2-7 7z" stroke="#2a8dd4" fill="#fff"/><path d="M416.500 46.500h6.500l4 4v3 M416.500 46.500v16h5.500 M423 46.500v4h4"/><path d="M424.500 60a3.500 3.500 0 1 1 1 2.500 M424.500 57.200v2.800h2.800" stroke="#3a9a8a"/><rect x="465" y="54" width="3.800" height="9.500" fill="#4aa3df" stroke="#2a8dd4"/><rect x="469.500" y="47" width="3.800" height="16.500" stroke="#605e5c"/><rect x="474" y="51" width="3.800" height="12.500" stroke="#605e5c"/><path d="M476.500 58.500v6 M473.500 61.500h6" stroke="#3a9a8a" stroke-width="1.100"/><rect x="503.500" y="47.500" width="18" height="13.500" stroke="#2a8dd4"/><rect x="544" y="55" width="3.800" height="8.500"/><rect x="548.500" y="47" width="3.800" height="16.500"/><rect x="553" y="52" width="3.800" height="11.500"/><path d="M549 64l1-3 7-7 2 2-7 7z" stroke="#2a8dd4" fill="#fff"/><rect x="588.500" y="46.500" width="10.500" height="16" rx="1" stroke="#3b3a39" fill="#e9e9e8"/><rect x="590" y="48.200" width="7.500" height="3" fill="#2a8dd4" stroke="none"/><rect x="590.2" y="53.0" width="1.800" height="1.800" fill="#3b3a39" stroke="none"/><rect x="592.9" y="53.0" width="1.800" height="1.800" fill="#3b3a39" stroke="none"/><rect x="595.6" y="53.0" width="1.800" height="1.800" fill="#3b3a39" stroke="none"/><rect x="590.2" y="56.0" width="1.800" height="1.800" fill="#3b3a39" stroke="none"/><rect x="592.9" y="56.0" width="1.800" height="1.800" fill="#3b3a39" stroke="none"/><rect x="595.6" y="56.0" width="1.800" height="1.800" fill="#3b3a39" stroke="none"/><rect x="590.2" y="59.0" width="1.800" height="1.800" fill="#3b3a39" stroke="none"/><rect x="592.9" y="59.0" width="1.800" height="1.800" fill="#3b3a39" stroke="none"/><rect x="595.6" y="59.0" width="1.800" height="1.800" fill="#3b3a39" stroke="none"/><rect x="614.500" y="47.500" width="10.500" height="15.500" rx="1" stroke="#3b3a39" fill="#e9e9e8"/><rect x="616.2" y="53.5" width="1.800" height="1.800" fill="#3b3a39" stroke="none"/><rect x="618.9" y="53.5" width="1.800" height="1.800" fill="#3b3a39" stroke="none"/><rect x="621.6" y="53.5" width="1.800" height="1.800" fill="#3b3a39" stroke="none"/><rect x="616.2" y="56.5" width="1.800" height="1.800" fill="#3b3a39" stroke="none"/><rect x="618.9" y="56.5" width="1.800" height="1.800" fill="#3b3a39" stroke="none"/><rect x="621.6" y="56.5" width="1.800" height="1.800" fill="#3b3a39" stroke="none"/><rect x="616.2" y="59.5" width="1.800" height="1.800" fill="#3b3a39" stroke="none"/><rect x="618.9" y="59.5" width="1.800" height="1.800" fill="#3b3a39" stroke="none"/><rect x="621.6" y="59.5" width="1.800" height="1.800" fill="#3b3a39" stroke="none"/><path d="M615.500 44l-3.500 6h2.500l-1.500 5 5-7h-2.500l2-4z" fill="#f2a900" stroke="#d98b00" stroke-width="0.500"/><g stroke="#c9d9e6"><path d="M668.500 48.500h6l4 4v11h-10z"/><path d="M672 46l6 6-2 2-6-6z"/></g><rect x="719" y="55.500" width="5.500" height="7.500"/><rect x="722" y="47.500" width="5.500" height="8"/><rect x="725" y="55.500" width="5.500" height="7.500"/><path d="M731.500 54.500c-1-2-3-2-4.500 0" stroke="#2a8dd4"/></svg>
<span class="t" style="left:509.5px;top:49.0px;font-size:9px;line-height:12px;color:#2a8dd4;">A</span>
<svg class="b" style="left:0;top:0" width="1152" height="648" fill="none" stroke="#605e5c" stroke-width="0.900"><path d="M8.500 112.500h8" stroke="#3b3a39"/><rect x="9" y="106" width="2" height="6" fill="#3b3a39" stroke="none"/><rect x="11.800" y="108.500" width="2" height="3.500" fill="#3b3a39" stroke="none"/><rect x="14.600" y="104.500" width="2" height="7.500" fill="#3b3a39" stroke="none"/><path d="M8.500 127.500h9v8.500h-9z M8.500 130.300h9 M8.500 133.100h9 M11.500 127.500v8.500 M14.500 127.500v8.500" stroke="#8a8886"/><g stroke="#8a8886"><rect x="12" y="151.500" width="4" height="3.500"/><rect x="8" y="154.500" width="4" height="3.500"/><rect x="13.500" y="157.500" width="4" height="3.500"/><path d="M12 156h1.500v3"/></g></svg>
<svg class="b" style="left:0;top:0" width="1152" height="648" fill="none" stroke="#3b3a39" stroke-width="0.900"><path d="M942.600 132.800h14.200" stroke="#605e5c" stroke-width="1"/><rect x="942.600" y="135.300" width="14.200" height="4.300" fill="#12775d" stroke="none"/><rect x="942.600" y="142" width="14.200" height="4.500" fill="#12775d" stroke="none"/><path d="M942.600 140.800h14.200" stroke="#8a8886" stroke-width="0.700"/><path d="M945 153.500l3-2.500 3 2.500" stroke="#c8c6c4" fill="#f0efee"/><path d="M982.500 133h7l3.500 3.500v2 M982.500 133v14h6" stroke="#3b3a39" stroke-width="1"/><path d="M988 147l1-3.500 7.500-7.500 2.500 2.500-7.500 7.500z" stroke="#3b3a39" fill="#f0efee" stroke-width="1"/><path d="M941.8 164.5v11h11" /><rect x="942.8" y="165.5" width="6" height="2.200" fill="#2a8dd4" stroke="none"/><rect x="942.8" y="168.7" width="9" height="2.200" fill="#3b3a39" stroke="none"/><rect x="942.8" y="171.9" width="4" height="2.200" fill="#2a8dd4" stroke="none"/><path d="M958.5 164.5v11h11"/><rect x="960.0" y="169.5" width="2.200" height="5.500" fill="#2a8dd4" stroke="none"/><rect x="963.2" y="165.5" width="2.200" height="9.500" fill="#3b3a39" stroke="none"/><rect x="966.4" y="168.0" width="2.200" height="7" fill="#2a8dd4" stroke="none"/><path d="M975.2 164.5v11h11" /><rect x="976.2" y="165.5" width="6" height="2.200" fill="#2a8dd4" stroke="none"/><rect x="976.2" y="168.7" width="9" height="2.200" fill="#3b3a39" stroke="none"/><rect x="976.2" y="171.9" width="4" height="2.200" fill="#2a8dd4" stroke="none"/><path d="M991.8 164.5v11h11"/><rect x="993.3" y="169.5" width="2.200" height="5.500" fill="#2a8dd4" stroke="none"/><rect x="996.5" y="165.5" width="2.200" height="9.500" fill="#3b3a39" stroke="none"/><rect x="999.6999999999999" y="168.0" width="2.200" height="7" fill="#2a8dd4" stroke="none"/><path d="M1008.5 164.5v11h11" /><rect x="1009.5" y="165.5" width="6" height="2.200" fill="#2a8dd4" stroke="none"/><rect x="1009.5" y="168.7" width="9" height="2.200" fill="#3b3a39" stroke="none"/><rect x="1009.5" y="171.9" width="4" height="2.200" fill="#2a8dd4" stroke="none"/><path d="M1025.2 164.5v11h11"/><rect x="1026.7" y="169.5" width="2.200" height="5.500" fill="#2a8dd4" stroke="none"/><rect x="1029.9" y="165.5" width="2.200" height="9.500" fill="#3b3a39" stroke="none"/><rect x="1033.1000000000001" y="168.0" width="2.200" height="7" fill="#2a8dd4" stroke="none"/><path d="M941.8 180.8v11h11"/><path d="M942.8 188.8l3-4 2.500 2 4-5" stroke="#2a8dd4" stroke-width="1.100"/><path d="M958.5 191.8l3.500-8 3 4 2.500-5 2 9z" fill="#2a8dd4" stroke="#3b3a39" stroke-width="0.700"/><path d="M975.2 191.8l3.500-8 3 4 2.500-5 2 9z" fill="#2a8dd4" stroke="#3b3a39" stroke-width="0.700"/><path d="M991.8 180.8v11h11"/><rect x="993.3" y="185.8" width="2.200" height="5.500" fill="#2a8dd4" stroke="none"/><rect x="996.5" y="183.8" width="2.200" height="7.500" fill="#3b3a39" stroke="none"/><rect x="999.6999999999999" y="186.8" width="2.200" height="4.500" fill="#2a8dd4" stroke="none"/><path d="M992.8 184.8l4-3 3 2.500 3-2"/><path d="M1008.5 180.8v11h11"/><rect x="1010.0" y="185.8" width="2.200" height="5.500" fill="#2a8dd4" stroke="none"/><rect x="1013.2" y="183.8" width="2.200" height="7.500" fill="#3b3a39" stroke="none"/><rect x="1016.4" y="186.8" width="2.200" height="4.500" fill="#2a8dd4" stroke="none"/><path d="M1009.5 184.8l4-3 3 2.500 3-2"/><path d="M1025.2 182.8c4 0 6 6 11 5v3.500c-5 1-7-4-11-4z" fill="#2a8dd4" stroke="none"/><path d="M1025.2 188.8c4 0 6-6 11-6" stroke="#3b3a39"/><path d="M1025.2 180.8v11h11"/><path d="M941.8 197.2v11h11"/><rect x="943.3" y="203.2" width="2" height="4.500" fill="#2a8dd4" stroke="none"/><rect x="946.0" y="200.2" width="2" height="3.500" fill="#3b3a39" stroke="none"/><rect x="948.6999999999999" y="198.2" width="2" height="2.500" fill="#2a8dd4" stroke="none"/><rect x="951.0999999999999" y="198.2" width="1.700" height="9.500" fill="#3b3a39" stroke="none"/><rect x="958.5" y="197.2" width="11" height="2.500" fill="#2a8dd4" stroke="none"/><rect x="960.0" y="200.39999999999998" width="8" height="2.500" fill="#2a8dd4" stroke="none"/><rect x="961.5" y="203.6" width="5" height="2.500" fill="#2a8dd4" stroke="none"/><rect x="962.5" y="206.79999999999998" width="3" height="1.800" fill="#2a8dd4" stroke="none"/><path d="M975.2 197.2v11h11"/><circle cx="978.2" cy="204.2" r="0.900" fill="#2a8dd4" stroke="none"/><circle cx="981.2" cy="201.2" r="0.900" fill="#3b3a39" stroke="none"/><circle cx="983.7" cy="204.7" r="0.900" fill="#2a8dd4" stroke="none"/><circle cx="984.2" cy="199.2" r="0.900" fill="#3b3a39" stroke="none"/><circle cx="997.3" cy="202.7" r="5.300"/><path d="M997.3 202.7v-5.300a5.300 5.300 0 0 1 5.300 5.300z" fill="#2a8dd4" stroke="none"/><circle cx="1014" cy="202.7" r="4" stroke="#2a8dd4" stroke-width="2.800"/><path d="M1014 198.7a4 4 0 0 1 4 4" stroke="#3b3a39" stroke-width="2.800"/><rect x="1025.2" y="197.2" width="5" height="11" fill="#2a8dd4" stroke="none"/><path d="M1025.2 197.2h11v11h-11z M1030.2 197.2v11 M1030.2 203.2h6 M1033.2 203.2v5"/><circle cx="947.3" cy="218.3" r="4.500"/><path d="M944.8 216.3c2 1 3 3 1 5 M944.8 224.8h5" stroke-width="1.100"/><path d="M958.5 215.3l3.700 1.500 3.700-1.500 3.600 1.500v8l-3.600-1.500-3.700 1.500-3.700-1.500z" fill="#2a8dd4" fill-opacity="0.55"/><path d="M962.2 216.8v8 M965.9 215.3v8"/><path d="M975.2 215.3l3.700 1.500 3.700-1.500 3.600 1.500v8l-3.600-1.500-3.700 1.500-3.700-1.500z"/><path d="M978.9000000000001 216.8v8 M982.6 215.3v8" stroke="#2a8dd4"/><path d="M997.3 213.8l4.500 11-4.500-3-4.500 3z" fill="#2a8dd4" stroke="#2a8dd4"/><path d="M1009.0 222.3a5 5 0 0 1 10 0" stroke="#2a8dd4" stroke-width="2.200"/><path d="M1014 222.3l2.500-4" /><rect x="1025.2" y="215.3" width="11" height="8"/><path d="M1027.7 220.3h6" stroke="#2a8dd4" stroke-width="1.500" stroke-dasharray="1.500 0.700"/><rect x="941.8" y="231.0" width="11" height="10"/><path d="M943.8 234.0h7 M943.8 236.5h5" stroke-width="1.100"/><rect x="958.5" y="231.5" width="11" height="9"/><path d="M960.5 237.5l2.500-3 2 1.500 2.500-3" stroke="#2a8dd4"/><path d="M962.5 235.5h3" stroke="#d64554" stroke-width="1.500"/><rect x="975.2" y="231.5" width="11" height="5"/><path d="M976.7 234.0h4 M976.2 239.0h4"/><path d="M981.7 237.5h4.500l-1.600 2v2l-1.300-.8v-1.200z" stroke-width="0.800"/><path d="M991.8 231.0h11v10h-11z M991.8 234.3h11 M991.8 237.6h11 M995.5 231.0v10 M999.1999999999999 231.0v10"/><path d="M1008.5 231.0h11v10h-11z M1008.5 234.3h11 M1008.5 237.6h11 M1012.2 231.0v10 M1015.9 231.0v10"/><rect x="1008.5" y="231.0" width="11" height="3.300" fill="#2a8dd4" stroke="none"/><rect x="1008.5" y="231.0" width="3.700" height="10" fill="#2a8dd4" stroke="none"/><path d="M958.5 247.2v11h11"/><path d="M959.5 255.2l3-4 2.500 2 4-5" stroke="#2a8dd4" stroke-width="1.100"/><rect x="975.2" y="251.2" width="3.500" height="3"/><rect x="982.2" y="247.7" width="4" height="2.500" fill="#2a8dd4" stroke="#2a8dd4"/><rect x="982.2" y="251.39999999999998" width="4" height="2.500" fill="#2a8dd4" stroke="#2a8dd4"/><rect x="982.2" y="255.2" width="4" height="2.500" fill="#2a8dd4" stroke="#2a8dd4"/><path d="M978.7 252.7h2 M980.7 248.89999999999998v8 M980.7 248.89999999999998h1.500 M980.7 256.5h1.500"/><path d="M991.8 247.7h11v7.500h-6l-2.500 2.500v-2.500h-2.500z"/><path d="M1010.0 247.2h5.500l3 3v8h-8.500z M1015.5 247.2v3h3"/><path d="M1011.5 249.7h2.500" stroke="#2a8dd4"/><path d="M1027.7 247.2h6v4a3 3 0 0 1-6 0z M1027.7 248.2h-2v1.500a2 2 0 0 0 2 2 M1033.7 248.2h2v1.500a2 2 0 0 1-2 2 M1030.7 254.2v2.500 M1027.7 257.7h6" stroke-width="1"/><path d="M942.8 263.8h5.500l3 3v8h-8.500z" /><rect x="944.3" y="269.8" width="1.500" height="3.500" fill="#3b3a39" stroke="none"/><rect x="946.5" y="268.3" width="1.500" height="5" fill="#3b3a39" stroke="none"/><rect x="948.6999999999999" y="270.8" width="1.500" height="2.500" fill="#3b3a39" stroke="none"/><rect x="959.5" y="263.8" width="9" height="11" stroke="#2a8dd4"/><path d="M961.0 272.8l5-7" stroke="#e66c37" stroke-width="1.500"/><rect x="960.0" y="264.3" width="3" height="3" fill="#e66c37" stroke="none"/><path d="M980.7 263.8l5.500 5.500-5.500 5.500-5.500-5.500z M978.0 266.6l5.500 5.500 M983.4000000000001 266.6l-5.500 5.500" stroke-width="0.800"/><path d="M991.8 264.8h4l4 4.500-4 4.500h-4l4-4.500z M996.8 264.8h2.500l4 4.500-4 4.500h-2.500" stroke="#2a8dd4"/><circle cx="1011.500" cy="269.500" r="0.600" fill="#605e5c" stroke="none"/><circle cx="1014" cy="269.500" r="0.600" fill="#605e5c" stroke="none"/><circle cx="1016.500" cy="269.500" r="0.600" fill="#605e5c" stroke="none"/></svg>
<span class="t" style="left:1027.3px;top:230.8px;font-size:9.5px;line-height:12px;color:#2a8dd4;font-weight:700;">R</span>
<span class="t" style="left:941.8px;top:247.0px;font-size:9.5px;line-height:12px;color:#2a8dd4;letter-spacing:-0.31px;font-weight:700;">Py</span>
<svg class="b" style="left:0;top:0" width="1152" height="648" fill="none"><rect x="206.700" y="623" width="26.600" height="25" fill="#48596a"/><g fill="#fff"><rect x="9.800" y="631.300" width="3.800" height="3.800"/><rect x="14.400" y="631.300" width="3.800" height="3.800"/><rect x="9.800" y="635.900" width="3.800" height="3.800"/><rect x="14.400" y="635.900" width="3.800" height="3.800"/></g><circle cx="44" cy="633.800" r="4" stroke="#fff" stroke-width="1.300"/><path d="M41 637l-4 4.200" stroke="#fff" stroke-width="1.500"/><rect x="68" y="632" width="5.500" height="7.500" stroke="#fff" stroke-width="0.900"/><path d="M66.500 632v7.500 M75.500 632.500v2.500 M75.500 637v2.500" stroke="#fff" stroke-width="0.900"/><circle cx="102.300" cy="635.500" r="6.300" fill="#1b8fd6"/><path d="M97 637a5.500 5.500 0 0 1 10.500-2.500c-2-2-6-1.500-6 1.500 0 2 2 3.500 5 3-2 3-8 2.500-9.500-2z" fill="#35d07a"/><rect x="127" y="630" width="10" height="10.500" rx="1" fill="#1273c4"/><rect x="124.500" y="632.500" width="7" height="7" rx="1" fill="#0a5aa6"/><circle cx="128" cy="636" r="1.900" stroke="#fff" stroke-width="1"/><path d="M154.500 630.500h5l1.500 1.500h6.500v9h-13z" fill="#f0b63a"/><rect x="154.500" y="634" width="13" height="7" fill="#ffd75e"/><rect x="158" y="638.500" width="6" height="2.500" fill="#3a8fd8"/><circle cx="190.7" cy="635.5" r="6.200" fill="#e8453c"/><path d="M190.7 635.5L185.29999999999998 632.4A6.200 6.200 0 0 0 190.7 641.7Z" fill="#34a853"/><path d="M190.7 635.5L190.7 641.7A6.200 6.200 0 0 0 196.1 632.4Z" fill="#fbbc05"/><path d="M190.7 635.5L196.1 632.4A6.200 6.200 0 0 0 185.29999999999998 632.4Z" fill="#e8453c"/><circle cx="190.7" cy="635.5" r="2.800" fill="#fff"/><circle cx="190.7" cy="635.5" r="2.100" fill="#4285f4"/><circle cx="194" cy="639" r="2.600" fill="#b8b8b8" stroke="#6b6b6b" stroke-width="0.500"/><rect x="215" y="635" width="3" height="6" fill="#e6ad10"/><rect x="218.500" y="632" width="3" height="9" fill="#f2c811"/><rect x="222" y="629" width="3" height="12" fill="#f7dc5a"/><rect x="245.500" y="629.500" width="10.500" height="11.500" rx="1" fill="#1f9d55"/><rect x="243" y="632" width="7" height="7" rx="0.800" fill="#107c41"/><path d="M245 633.800l3 3.600 M248 633.800l-3 3.600" stroke="#fff" stroke-width="0.900"/><rect x="272.500" y="631.500" width="7.500" height="8" rx="1" fill="#4b53bc"/><circle cx="282.500" cy="632.500" r="2" fill="#7b83eb"/><rect x="280" y="635" width="5" height="5" rx="1.500" fill="#7b83eb"/><path d="M274.500 633.800h3.500 M276.300 633.800v4" stroke="#fff" stroke-width="0.900"/><rect x="302" y="629.500" width="12.500" height="12" rx="1.500" fill="#6bbf2a"/><path d="M311.500 633a3.500 3.500 0 1 0 0 5" stroke="#fff" stroke-width="1.500"/><rect x="331" y="629.500" width="12.500" height="12" rx="1.500" fill="#e1362c"/><circle cx="336" cy="635.500" r="1.800" fill="#fff"/><path d="M339 633.500l3 2-3 2z" fill="#fff"/><circle cx="366.500" cy="635.500" r="4.500" stroke="#8cc63f" stroke-width="2.200"/><circle cx="368.500" cy="633" r="2" fill="#e87722"/><rect x="391" y="629.500" width="12.500" height="12" rx="1" fill="#2a7ab8"/><path d="M422 630h5v5.500h-5z" fill="#f2c63c"/><path d="M425.500 635.500h5v5.500h-5z" fill="#3a79b8"/><path d="M420.500 634h4v6h-2z" fill="#f2c63c"/><path d="M450.500 630.500h9v6c0 2.500-2.500 4-4.500 5-2-1-4.500-2.500-4.500-5z" fill="#2a7fd4" stroke="#bfe0ff" stroke-width="0.800"/><circle cx="484.500" cy="635.500" r="6" fill="#2b2b2b" stroke="#888" stroke-width="0.800"/><circle cx="487.500" cy="638.500" r="2.300" fill="#d9342b"/><circle cx="514" cy="635.500" r="6" fill="#6f52c8"/><circle cx="514" cy="635.500" r="3" stroke="#fff" stroke-width="1.300"/><rect x="536.500" y="630.500" width="13" height="10.500" rx="1" fill="#1f8fe0"/><path d="M538 636l4-3 3 3 3-4" stroke="#fff" stroke-width="1"/><circle cx="573" cy="635.500" r="5.800" fill="#f3f3f3"/><rect x="597.500" y="629.500" width="9" height="12" rx="1" fill="#4a6fa5"/><rect x="599" y="631" width="6" height="2.500" fill="#cfe0f5"/><ellipse cx="631" cy="635" rx="6" ry="4.500" fill="#d8d8e8"/><path d="M627 639l8-7" stroke="#c0392b" stroke-width="1.300"/><rect x="654.500" y="631.500" width="12" height="9" rx="1" fill="#3a6ea5"/><rect x="657" y="634" width="7" height="4" fill="#e8e8e8"/><circle cx="690.7" cy="635.5" r="6.200" fill="#e8453c"/><path d="M690.7 635.5L685.3000000000001 632.4A6.200 6.200 0 0 0 690.7 641.7Z" fill="#34a853"/><path d="M690.7 635.5L690.7 641.7A6.200 6.200 0 0 0 696.1 632.4Z" fill="#fbbc05"/><path d="M690.7 635.5L696.1 632.4A6.200 6.200 0 0 0 685.3000000000001 632.4Z" fill="#e8453c"/><circle cx="690.7" cy="635.5" r="2.800" fill="#fff"/><circle cx="690.7" cy="635.5" r="2.100" fill="#4285f4"/><circle cx="720.3" cy="635.5" r="6.200" fill="#e8453c"/><path d="M720.3 635.5L714.9 632.4A6.200 6.200 0 0 0 720.3 641.7Z" fill="#34a853"/><path d="M720.3 635.5L720.3 641.7A6.200 6.200 0 0 0 725.6999999999999 632.4Z" fill="#fbbc05"/><path d="M720.3 635.5L725.6999999999999 632.4A6.200 6.200 0 0 0 714.9 632.4Z" fill="#e8453c"/><circle cx="720.3" cy="635.5" r="2.800" fill="#fff"/><circle cx="720.3" cy="635.5" r="2.100" fill="#4285f4"/><rect x="150" y="646.300" width="22.500" height="1.700" fill="#76b9ed"/><rect x="180" y="646.300" width="22.500" height="1.700" fill="#76b9ed"/><rect x="238.5" y="646.300" width="22.500" height="1.700" fill="#76b9ed"/><rect x="385" y="646.300" width="22.500" height="1.700" fill="#76b9ed"/><rect x="473.5" y="646.300" width="22.500" height="1.700" fill="#76b9ed"/><rect x="620" y="646.300" width="22.500" height="1.700" fill="#76b9ed"/><rect x="207" y="646.500" width="26" height="1.500" fill="#76b9ed"/><path d="M1098 638l3-4 1.500 1.500 M1099.500 633.500a2 2 0 1 1 3 2.500" stroke="#e0e0e0" stroke-width="0.900"/></svg>
<span class="t" style="left:394.0px;top:629.5px;font-size:10px;line-height:13px;color:#fff;font-weight:700;">S</span>
<span class="t" style="left:570.5px;top:631.6px;font-size:7px;line-height:9px;color:#555;font-weight:700;">U</span>
<span class="t" style="left:1115.8px;top:626.0px;font-size:6.6px;line-height:9px;color:#ffffff;letter-spacing:0.07px;">9:54 a. m.</span>
<span class="t" style="left:1113.7px;top:637.1px;font-size:6.6px;line-height:9px;color:#ffffff;letter-spacing:0.16px;">25/07/2023</span>
</body></html>
